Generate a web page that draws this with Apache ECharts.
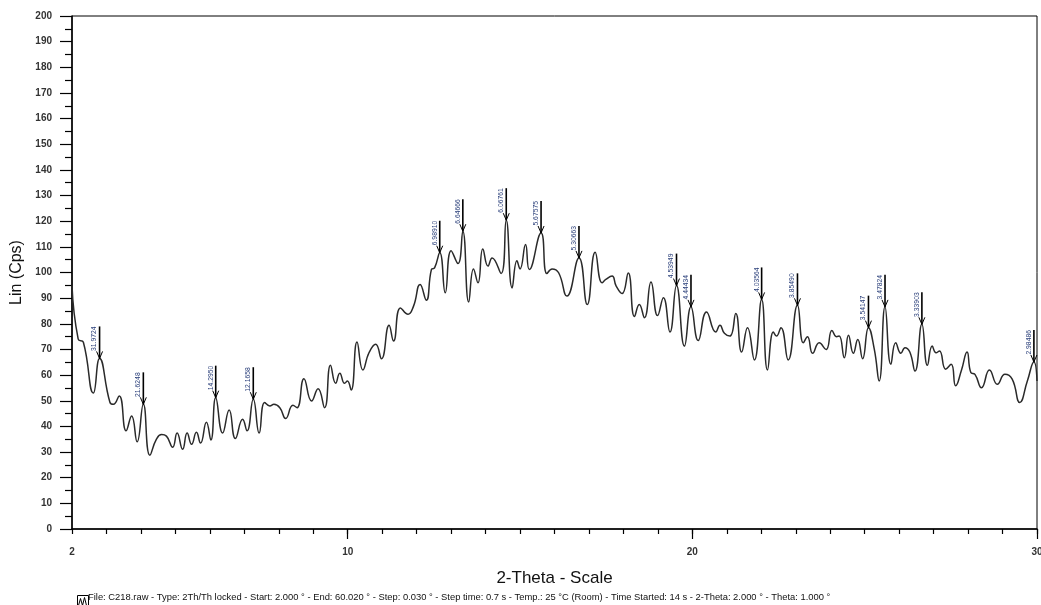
<!DOCTYPE html>
<html>
<head>
<meta charset="utf-8">
<title>C218 XRD</title>
<script src="https://cdn.jsdelivr.net/npm/echarts@6/dist/echarts.min.js"></script>
<style>
  html, body { margin: 0; padding: 0; background: #fff; }
  #chart { width: 1041px; height: 605px; }
</style>
</head>
<body>
<div id="chart"></div>
<script>
// 2-theta positions (deg) and intensity (Cps)
var twoTheta = [
  2.00, 2.18, 2.33, 2.62, 2.80, 3.10, 3.20, 3.37, 3.57, 3.73, 3.89, 4.07, 4.26, 4.45, 4.60,
  4.74, 4.92, 5.05, 5.21, 5.34, 5.47, 5.61, 5.73, 5.90, 6.03, 6.17, 6.37, 6.56, 6.74, 6.95,
  7.08, 7.26, 7.43, 7.59, 7.74, 7.86, 8.03, 8.20, 8.41, 8.53, 8.73, 8.95, 9.14, 9.33, 9.50,
  9.65, 9.77, 9.91, 9.99, 10.10, 10.27, 10.44, 10.62, 10.81, 10.98, 11.20, 11.33, 11.53, 11.75, 11.91,
  12.10, 12.28, 12.43, 12.52, 12.67, 12.83, 13.00, 13.20, 13.34, 13.51, 13.65, 13.78, 13.92, 14.07, 14.19,
  14.45, 14.60, 14.77, 14.91, 15.00, 15.16, 15.27, 15.61, 15.78, 15.93, 16.12, 16.36, 16.71, 16.95, 17.18,
  17.38, 17.49, 17.67, 17.79, 17.96, 18.14, 18.32, 18.46, 18.61, 18.80, 18.99, 19.16, 19.35, 19.54, 19.77,
  19.96, 20.17, 20.41, 20.68, 20.80, 20.93, 21.09, 21.26, 21.43, 21.60, 21.80, 22.01, 22.18, 22.35, 22.44,
  22.57, 22.78, 23.05, 23.22, 23.34, 23.49, 23.68, 23.88, 24.05, 24.18, 24.26, 24.41, 24.53, 24.67, 24.80,
  24.94, 25.11, 25.28, 25.42, 25.59, 25.76, 25.90, 26.05, 26.17, 26.31, 26.46, 26.66, 26.82, 26.96, 27.07,
  27.17, 27.35, 27.51, 27.64, 27.81, 27.97, 28.08, 28.20, 28.39, 28.62, 28.85, 29.07, 29.28, 29.50, 29.72,
  29.91, 30.00
];
var counts = [
  95.0, 74.0, 72.8, 53.0, 66.5, 49.4, 48.6, 51.9, 38.3, 44.1, 34.0, 48.6, 28.8, 35.0, 36.8,
  36.2, 31.9, 37.4, 31.1, 37.4, 33.0, 37.7, 33.5, 41.6, 34.7, 51.2, 37.4, 46.4, 35.3, 42.8,
  38.3, 50.6, 37.4, 49.3, 48.0, 48.6, 47.3, 43.1, 48.2, 47.3, 58.6, 49.9, 54.7, 47.3, 63.8,
  56.8, 60.7, 56.8, 57.7, 54.2, 72.9, 62.0, 68.8, 72.0, 66.4, 79.4, 73.3, 86.2, 83.7, 86.9,
  95.3, 89.2, 101.2, 101.8, 107.7, 92.1, 108.5, 103.5, 116.1, 88.5, 101.4, 96.0, 109.2, 102.5, 105.7,
  99.6, 120.4, 94.0, 104.6, 101.4, 110.9, 101.2, 115.4, 99.6, 101.4, 99.9, 90.8, 105.7, 87.5, 107.9,
  96.0, 97.3, 98.6, 94.7, 91.8, 99.8, 82.8, 87.5, 82.4, 96.3, 83.2, 90.2, 76.8, 94.9, 71.3,
  86.6, 73.5, 84.6, 76.8, 79.4, 76.3, 75.2, 84.0, 69.0, 78.5, 65.9, 89.5, 62.0, 76.8, 75.2,
  78.5, 65.9, 87.2, 72.6, 75.0, 68.5, 72.6, 70.0, 77.4, 75.0, 75.2, 66.8, 75.5, 68.5, 73.9,
  66.4, 78.5, 70.0, 57.7, 86.6, 64.2, 72.6, 68.5, 70.7, 69.0, 61.6, 79.8, 63.8, 71.3, 68.7,
  69.4, 62.3, 64.2, 55.8, 62.0, 69.0, 61.0, 60.3, 55.1, 62.0, 56.4, 60.3, 58.4, 49.3, 57.7,
  65.1, 57.7
];

// peak markers: position and d-value label
var peakTheta = [2.80, 4.07, 6.17, 7.26, 12.67, 13.34, 14.60, 15.61, 16.71, 19.54, 19.96, 22.01, 23.05, 25.11, 25.59, 26.66, 29.91];
var peakLabels = ['31.9724', '21.6248', '14.2950', '12.1658', '6.98910', '6.64666', '6.06761', '5.67575', '5.30663',
  '4.53949', '4.44434', '4.03564', '3.85490', '3.54147', '3.47824', '3.33903', '2.98486'];

var xLabelValues = [2, 10, 20, 30];
var xMajorTicks = [10, 20, 30];

var footer = 'File: C218.raw - Type: 2Th/Th locked - Start: 2.000 \u00b0 - End: 60.020 \u00b0 - Step: 0.030 \u00b0 - Step time: 0.7 s - Temp.: 25 \u00b0C (Room) - Time Started: 14 s - 2-Theta: 2.000 \u00b0 - Theta: 1.000 \u00b0';

var lineData = twoTheta.map(function (t, i) { return [t, counts[i]]; });
var peakData = peakTheta.map(function (t, i) {
  return [t, counts[twoTheta.indexOf(t)], i];
});

var font = 'Liberation Sans';
var chart = echarts.init(document.getElementById('chart'), null, { renderer: 'canvas' });

chart.setOption({
  animation: false,
  backgroundColor: '#fff',
  textStyle: { fontFamily: font },
  grid: {
    left: 72, right: 4, top: 16, bottom: 76,
    show: true, borderColor: '#000', borderWidth: 1,
    outerBoundsMode: 'none'
  },
  xAxis: [
    {
      type: 'value', min: 2, max: 30, interval: 1,
      name: '2-Theta - Scale', nameLocation: 'middle', nameGap: 41,
      nameTextStyle: { fontSize: 17, color: '#111', fontFamily: font },
      axisLine: { lineStyle: { color: '#000', width: 1.5 } },
      axisTick: { length: 5, lineStyle: { color: '#000', width: 1.2 } },
      axisLabel: { customValues: xLabelValues, margin: 18, fontSize: 10, fontWeight: 'bold', color: '#333' },
      splitLine: { show: false }
    },
    {
      type: 'value', min: 2, max: 30, position: 'bottom',
      axisLine: { show: false },
      axisTick: { customValues: xMajorTicks, length: 10, lineStyle: { color: '#000', width: 1.2 } },
      axisLabel: { show: false },
      splitLine: { show: false }
    }
  ],
  yAxis: {
    type: 'value', min: 0, max: 200, interval: 10,
    name: 'Lin (Cps)', nameLocation: 'middle', nameGap: 42,
    nameTextStyle: { fontSize: 16, color: '#111', fontFamily: font },
    axisLine: { show: true, lineStyle: { color: '#000', width: 1.5 } },
    axisTick: { show: true, length: 12, lineStyle: { color: '#000', width: 1.2 } },
    minorTick: { show: true, splitNumber: 2, length: 7, lineStyle: { color: '#000', width: 1.2 } },
    axisLabel: { margin: 20, fontSize: 10, fontWeight: 'bold', color: '#333' },
    splitLine: { show: false }
  },
  graphic: [
    {
      type: 'group', left: 75, top: 593,
      children: [
        { type: 'rect', shape: { x: 0, y: 0, width: 11, height: 11 }, style: { fill: 'none', stroke: '#000', lineWidth: 1 } },
        { type: 'polyline', shape: { points: [[1, 10], [3, 3], [5, 10], [7, 2], [9, 10]] }, style: { fill: 'none', stroke: '#000', lineWidth: 1 } }
      ]
    },
    {
      type: 'text', left: 88, top: 593,
      style: { text: footer, fontSize: 9.4, fill: '#111', fontFamily: font }
    }
  ],
  series: [
    {
      type: 'line',
      data: lineData,
      smooth: 0.5,
      symbol: 'none',
      lineStyle: { color: '#2a2a2a', width: 1.5 },
      z: 2
    },
    {
      type: 'custom',
      data: peakData,
      encode: { x: 0, y: 1 },
      clip: false,
      z: 3,
      renderItem: function (params, api) {
        var p = api.coord([api.value(0), api.value(1)]);
        var lab = peakLabels[api.value(2)];
        return {
          type: 'group',
          children: [
            { type: 'line', shape: { x1: p[0], y1: p[1], x2: p[0], y2: p[1] - 32 },
              style: { stroke: '#000', lineWidth: 1.6 } },
            { type: 'polyline', shape: { points: [[p[0] - 3, p[1] - 7], [p[0], p[1]], [p[0] + 3, p[1] - 7]] },
              style: { stroke: '#000', fill: null, lineWidth: 1 } },
            { type: 'text', x: p[0] - 1.5, y: p[1] - 32, rotation: Math.PI / 2,
              style: { text: lab, align: 'right', verticalAlign: 'bottom', fontSize: 6.8,
                fill: '#2a3f7a', fontFamily: font } }
          ]
        };
      }
    }
  ]
});
</script>
</body>
</html>
